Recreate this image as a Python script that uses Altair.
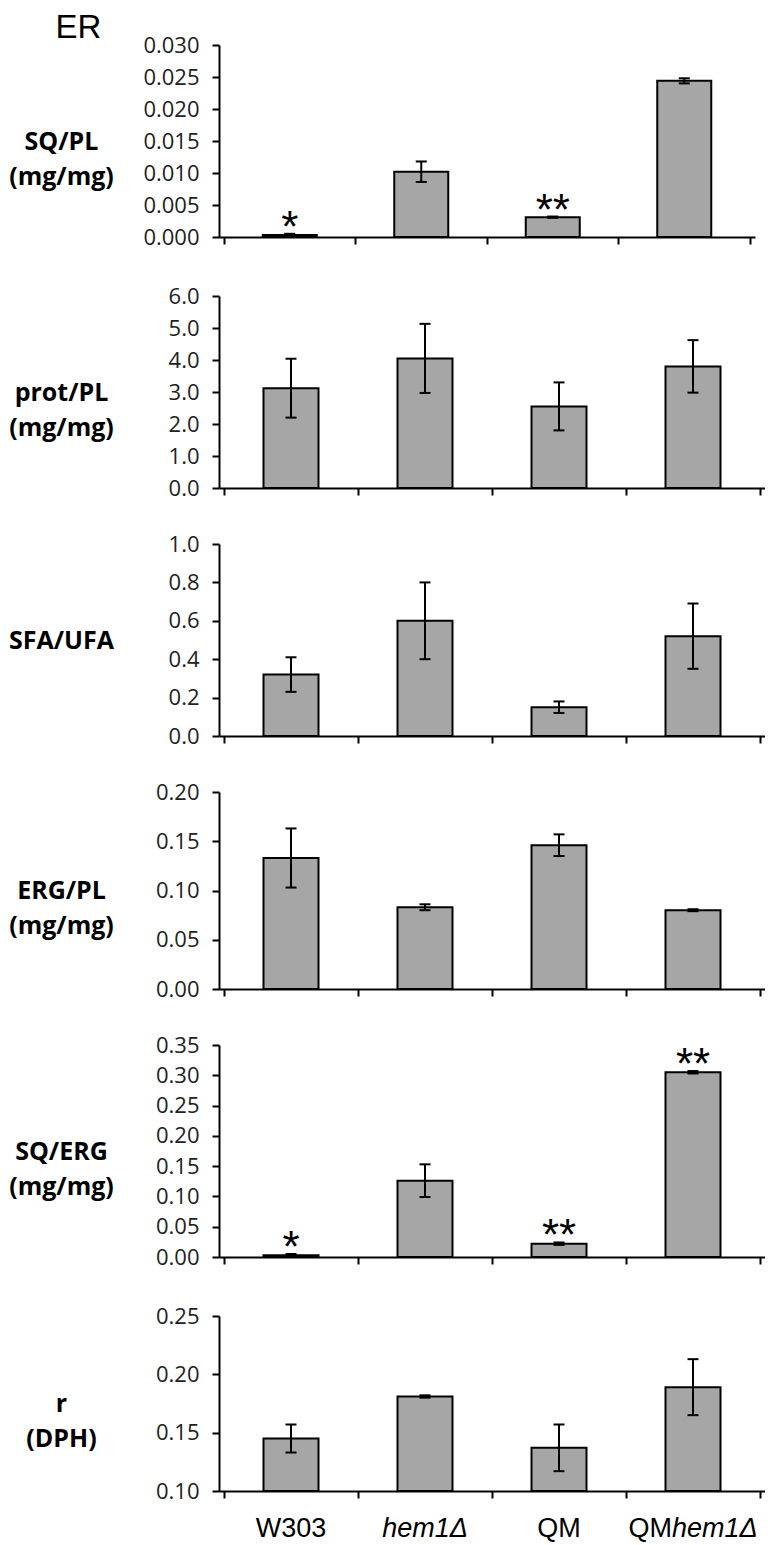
import altair as alt
import pandas as pd

# ---------------- data ----------------
categories = ["W303", "hem1Δ", "QM", "QMhem1Δ"]
label_center_plain = ["W303", "", "QM", ""]
label_center_italic = ["", "hem1Δ", "", ""]
label_split_plain = ["", "", "", "QM"]
label_split_italic = ["", "", "", "hem1Δ"]

sq_pl_mean = [0.0003, 0.0102, 0.0031, 0.0244]
sq_pl_err = [0.0002, 0.0016, 0.0001, 0.0004]
sq_pl_sig = ["*", "", "**", ""]

prot_pl_mean = [3.12, 4.05, 2.55, 3.80]
prot_pl_err = [0.92, 1.08, 0.75, 0.82]
prot_pl_sig = ["", "", "", ""]

sfa_ufa_mean = [0.32, 0.60, 0.15, 0.52]
sfa_ufa_err = [0.09, 0.20, 0.03, 0.17]
sfa_ufa_sig = ["", "", "", ""]

erg_pl_mean = [0.133, 0.083, 0.146, 0.080]
erg_pl_err = [0.030, 0.003, 0.011, 0.001]
erg_pl_sig = ["", "", "", ""]

sq_erg_mean = [0.003, 0.126, 0.022, 0.305]
sq_erg_err = [0.002, 0.027, 0.002, 0.002]
sq_erg_sig = ["*", "", "**", "**"]

r_dph_mean = [0.145, 0.181, 0.137, 0.189]
r_dph_err = [0.012, 0.001, 0.020, 0.024]
r_dph_sig = ["", "", "", ""]

panels = [
    dict(title=["SQ/PL", "(mg/mg)"], mean=sq_pl_mean, err=sq_pl_err, sig=sq_pl_sig,
         domain=[0, 0.030], ticks=[0, 0.005, 0.010, 0.015, 0.020, 0.025, 0.030], fmt=".3f",
         height=192, width=536),
    dict(title=["prot/PL", "(mg/mg)"], mean=prot_pl_mean, err=prot_pl_err, sig=prot_pl_sig,
         domain=[0, 6], ticks=[0, 1, 2, 3, 4, 5, 6], fmt=".1f", height=192, width=546),
    dict(title="SFA/UFA", mean=sfa_ufa_mean, err=sfa_ufa_err, sig=sfa_ufa_sig,
         domain=[0, 1], ticks=[0, 0.2, 0.4, 0.6, 0.8, 1.0], fmt=".1f", height=192, width=546),
    dict(title=["ERG/PL", "(mg/mg)"], mean=erg_pl_mean, err=erg_pl_err, sig=erg_pl_sig,
         domain=[0, 0.20], ticks=[0, 0.05, 0.10, 0.15, 0.20], fmt=".2f", height=197, width=546),
    dict(title=["SQ/ERG", "(mg/mg)"], mean=sq_erg_mean, err=sq_erg_err, sig=sq_erg_sig,
         domain=[0, 0.35], ticks=[0, 0.05, 0.10, 0.15, 0.20, 0.25, 0.30, 0.35], fmt=".2f",
         height=212, width=546),
    dict(title=["r", "(DPH)"], mean=r_dph_mean, err=r_dph_err, sig=r_dph_sig,
         domain=[0.10, 0.25], ticks=[0.10, 0.15, 0.20, 0.25], fmt=".2f", height=175, width=546),
]

BAR_FILL = "#a6a6a6"
TICK_FONT = "Open Sans"
TITLE_FONT = "Open Sans"
CAT_FONT = "Liberation Sans"


def make_panel(p, last=False):
    df = pd.DataFrame({
        "cat": categories,
        "idx": list(range(len(categories))),
        "mean": p["mean"],
        "err": p["err"],
        "sig": p["sig"],
        "cplain": label_center_plain,
        "citalic": label_center_italic,
        "splain": label_split_plain,
        "sitalic": label_split_italic,
    })
    base = alt.Chart(df).transform_calculate(
        pos="datum.idx + 0.5",
        lo="datum.mean - datum.err",
        hi="datum.mean + datum.err",
    )
    yaxis = alt.Axis(
        values=p["ticks"], format=p["fmt"], title=p["title"], grid=False,
        domainColor="black", domainWidth=2, tickColor="black", tickWidth=2, tickSize=7,
        labelFont=TICK_FONT, labelFontSize=22, labelColor="#222222", labelPadding=13,
        titleFont=TITLE_FONT, titleFontSize=25, titleFontWeight="bold", titleColor="black",
        titleAngle=0, titleAlign="center", titleBaseline="middle",
        titleX=-158, titleY=p["height"] / 2, titleLineHeight=35,
    )
    yscale = alt.Scale(domain=p["domain"], nice=False, zero=False)

    def yenc(field):
        return alt.Y(field, type="quantitative", scale=yscale, axis=yaxis)

    xenc = alt.X(
        "pos:Q", scale=alt.Scale(domain=[0, len(categories)], nice=False, zero=False),
        axis=alt.Axis(values=list(range(len(categories) + 1)), labels=False, title=None,
                      grid=False, domainColor="black", domainWidth=2, tickColor="black",
                      tickWidth=2, tickSize=7),
    )
    bw = 54 if p["width"] < 540 else 55
    bars = base.mark_bar(size=bw, color=BAR_FILL, stroke="black", strokeWidth=2).encode(
        x=xenc, y=yenc("mean"), y2=alt.datum(p["domain"][0])
    )
    whisk = base.mark_rule(color="black", strokeWidth=2).encode(
        x="pos:Q", y=yenc("lo"), y2="hi:Q"
    )
    cap_hi = base.mark_rule(color="black", strokeWidth=2, xOffset=-5.5, x2Offset=5.5).encode(
        x="pos:Q", x2="pos:Q", y=yenc("hi")
    )
    cap_lo = base.mark_rule(color="black", strokeWidth=2, xOffset=-5.5, x2Offset=5.5).encode(
        x="pos:Q", x2="pos:Q", y=yenc("lo")
    )
    stars = base.mark_text(font="Liberation Sans", fontSize=44, baseline="alphabetic",
                           align="center", dy=8, color="black").encode(
        x="pos:Q", y=yenc("hi"), text="sig:N"
    )
    layers = [bars, whisk, cap_hi, cap_lo, stars]
    if last:
        ly = p["height"] + 38
        common = dict(font=CAT_FONT, fontSize=27, baseline="middle", color="black")
        layers += [
            base.mark_text(align="center", **common).encode(
                x="pos:Q", y=alt.value(ly), text="cplain:N"),
            base.mark_text(align="center", fontStyle="italic", **common).encode(
                x="pos:Q", y=alt.value(ly), text="citalic:N"),
            base.mark_text(align="right", dx=-21, **common).encode(
                x="pos:Q", y=alt.value(ly), text="splain:N"),
            base.mark_text(align="left", dx=-21, fontStyle="italic", **common).encode(
                x="pos:Q", y=alt.value(ly), text="sitalic:N"),
        ]
    return alt.layer(*layers).properties(width=p["width"], height=p["height"])


charts = [make_panel(p, last=(i == len(panels) - 1)) for i, p in enumerate(panels)]

chart = alt.vconcat(*charts, spacing=34).properties(
    title=alt.TitleParams("ER", anchor="start", font="Liberation Sans", fontSize=33,
                          fontWeight="normal", color="black", dx=47, offset=-11),
    padding={"top": 4, "left": 0, "right": 0, "bottom": 0},
).configure_view(stroke=None)

chart.save("out.html", embed_options={"renderer": "svg", "actions": False})
